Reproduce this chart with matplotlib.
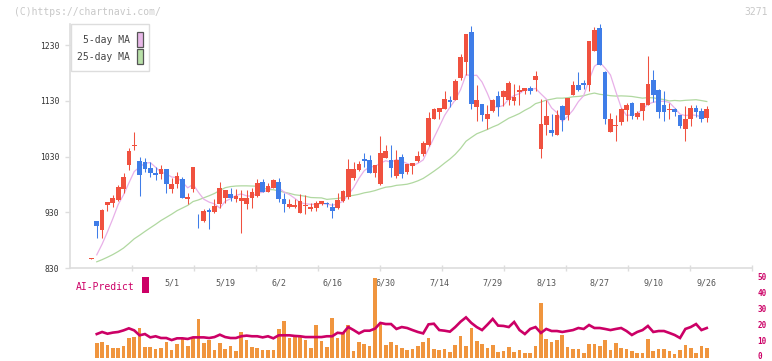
import matplotlib
matplotlib.use("Agg")
import matplotlib.pyplot as plt
from matplotlib.patches import Rectangle
from matplotlib.transforms import ScaledTranslation
import numpy as np
import pandas as pd

# ---- data (daily candles, 2025/4 .. 2025/9/26) ----
opens = [846, 914, 898, 943, 947, 952, 972, 1015, 1049, 1022,
         1020, 1009, 1000, 999, 1008, 972, 981, 990, 954, 972,
         911, 915, 934, 931, 945, 956, 963, 954, 950, 944,
         956, 960, 984, 967, 974, 984, 954, 940, 940, 929,
         942, 936, 938, 944, 946, 939, 937, 951, 957, 991,
         1006, 1025, 1024, 1000, 981, 1027, 1024, 995, 1029, 1002,
         1013, 1022, 1034, 1051, 1097, 1109, 1115, 1132, 1131, 1171,
         1200, 1253, 1119, 1124, 1097, 1111, 1138, 1137, 1132, 1129,
         1146, 1147, 1153, 1167, 1043, 1087, 1078, 1069, 1121, 1104,
         1140, 1158, 1162, 1158, 1219, 1260, 1182, 1074, 1084, 1092,
         1113, 1126, 1101, 1112, 1122, 1167, 1149, 1122, 1113, 1115,
         1104, 1079, 1097, 1117, 1112, 1099]
highs = [848, 914, 936, 949, 961, 979, 1000, 1045, 1074, 1030,
         1028, 1020, 1011, 1015, 1008, 992, 1002, 993, 965, 1011,
         927, 936, 938, 954, 984, 970, 974, 972, 970, 970,
         973, 990, 990, 982, 990, 991, 965, 953, 954, 963,
         961, 946, 950, 950, 948, 947, 964, 970, 1026, 1021,
         1022, 1037, 1033, 1015, 1066, 1051, 1051, 1042, 1035, 1017,
         1019, 1039, 1057, 1109, 1117, 1117, 1148, 1138, 1169, 1214,
         1250, 1264, 1158, 1124, 1122, 1133, 1148, 1149, 1165, 1160,
         1158, 1153, 1156, 1184, 1133, 1131, 1106, 1113, 1122, 1135,
         1165, 1182, 1167, 1237, 1262, 1268, 1183, 1108, 1104, 1117,
         1126, 1128, 1112, 1126, 1210, 1185, 1151, 1148, 1126, 1117,
         1104, 1121, 1122, 1122, 1117, 1121]
lows = [846, 884, 884, 933, 940, 950, 965, 1006, 1042, 959,
        1002, 993, 987, 990, 965, 965, 974, 956, 945, 966,
        902, 913, 900, 928, 938, 946, 951, 948, 893, 936,
        938, 958, 967, 967, 974, 949, 931, 938, 937, 928,
        927, 933, 933, 943, 940, 920, 936, 949, 953, 988,
        1004, 1012, 1000, 993, 979, 1027, 994, 991, 991, 999,
        998, 1020, 1031, 1049, 1097, 1097, 1115, 1119, 1131, 1167,
        1176, 1115, 1094, 1094, 1079, 1110, 1103, 1121, 1122, 1122,
        1122, 1142, 1143, 1147, 1028, 1069, 1067, 1069, 1076, 1096,
        1140, 1148, 1151, 1148, 1219, 1194, 1088, 1074, 1058, 1086,
        1094, 1097, 1097, 1096, 1122, 1128, 1099, 1094, 1097, 1103,
        1081, 1058, 1085, 1101, 1092, 1092]
closes = [848, 906, 934, 948, 956, 975, 993, 1040, 1051, 997,
          1008, 1000, 997, 1008, 980, 981, 995, 956, 957, 1011,
          910, 933, 930, 941, 974, 970, 956, 959, 956, 956,
          967, 983, 967, 977, 988, 954, 945, 945, 943, 950,
          943, 940, 946, 950, 944, 933, 952, 969, 1008, 1008,
          1017, 1022, 1000, 1015, 1036, 1039, 1009, 1024, 999, 1017,
          1018, 1031, 1054, 1099, 1115, 1117, 1133, 1128, 1165, 1208,
          1250, 1124, 1132, 1104, 1106, 1132, 1119, 1147, 1162, 1137,
          1149, 1153, 1147, 1175, 1088, 1103, 1073, 1104, 1096, 1135,
          1158, 1149, 1158, 1237, 1257, 1194, 1097, 1097, 1087, 1115,
          1122, 1103, 1108, 1126, 1160, 1140, 1110, 1110, 1115, 1110,
          1085, 1097, 1117, 1110, 1097, 1115]
volumes = [0, 147, 157, 127, 97, 97, 117, 197, 207, 297,
           107, 107, 87, 97, 157, 77, 137, 197, 117, 197,
           387, 147, 177, 77, 147, 87, 117, 67, 257, 177,
           110, 100, 77, 77, 77, 287, 367, 197, 207, 217,
           177, 97, 327, 167, 107, 397, 197, 247, 327, 67,
           157, 137, 117, 797, 337, 127, 157, 127, 97, 77,
           87, 117, 157, 197, 87, 77, 87, 57, 127, 217,
           117, 297, 167, 137, 97, 127, 57, 67, 107, 57,
           77, 47, 47, 117, 547, 187, 157, 177, 227, 107,
           87, 87, 47, 137, 137, 117, 177, 77, 147, 97,
           87, 67, 47, 47, 187, 67, 87, 87, 67, 37,
           77, 127, 97, 47, 117, 97]
ai_predict = [np.nan, 14.9, 16.2, 15.1, 15.8, 16.2, 17.2, 18.5, 17.2, 14.1,
              14.9, 12.8, 13.5, 12.4, 12.4, 11.1, 12.2, 12.2, 11.8, 12.8,
              12.8, 12.8, 12.4, 13.0, 14.5, 13.0, 12.4, 12.4, 13.5, 13.9,
              13.5, 13.5, 12.8, 13.5, 12.2, 14.1, 14.1, 14.1, 13.7, 13.5,
              13.0, 13.0, 13.0, 13.0, 13.5, 13.5, 15.7, 15.3, 19.3, 17.4,
              15.3, 17.0, 17.0, 18.3, 21.9, 21.2, 21.2, 18.1, 19.3, 18.7,
              17.4, 16.2, 15.3, 21.0, 21.4, 17.4, 17.0, 16.4, 19.3, 22.7,
              25.4, 21.9, 19.3, 17.4, 20.8, 24.4, 20.2, 20.0, 19.3, 22.5,
              17.4, 14.9, 18.1, 19.3, 15.6, 18.1, 16.8, 16.8, 16.2, 16.8,
              17.4, 18.7, 18.1, 20.6, 18.7, 18.7, 18.1, 17.4, 18.1, 18.7,
              16.8, 14.3, 16.2, 17.4, 20.0, 16.2, 16.8, 16.8, 15.6, 14.3,
              12.4, 18.1, 19.3, 21.2, 17.4, 18.7]
date_labels = ["5/1", "5/19", "6/2", "6/16", "6/30", "7/14",
               "7/29", "8/13", "8/27", "9/10", "9/26"]
date_index = [15, 25, 35, 45, 55, 65, 75, 85, 95, 105, 115]
price_ticks = [830, 930, 1030, 1130, 1230]
ai_ticks = [0, 10, 20, 30, 40, 50]
history_close = 838   # level the moving averages start from (before the window)

# ---- styles ----
RED = "#f0513f"
BLUE = "#3f7de8"
PINK = "#e8b0e8"
GREEN = "#b0d8a0"
CRIMSON = "#cc0066"
ORANGE = "#f0953e"
AXIS = "#dddddd"
MONO = "DejaVu Sans Mono"

W, H = 772, 361


def rect(x0, y0, x1, y1):
    return [x0 / W, 1 - y1 / H, (x1 - x0) / W, (y1 - y0) / H]


fig = plt.figure(figsize=(W / 100, H / 100), dpi=100)

x = np.arange(len(closes))
o = np.array(opens, float)
c = np.array(closes, float)
hi = np.array(highs, float)
lo = np.array(lows, float)
up = c >= o
colors = np.where(up, RED, BLUE)

# moving averages from the closes
s = pd.Series([history_close] * 24 + closes, dtype=float)
ma5 = s.rolling(5).mean().to_numpy()[24:]
ma25 = s.rolling(25).mean().to_numpy()[24:]

# ---- main price panel ----
ax = fig.add_axes(rect(70, 24, 752, 268))
ax.set_xlim(-4.0, 123.45)
ax.set_ylim(830, 1267.7)

ax.plot(x[1:], ma25[1:], color=GREEN, lw=0.9, zorder=2)
ax.plot(x[1:], ma5[1:], color=PINK, lw=0.9, zorder=2)

ax.vlines(x, lo, hi, colors=colors, lw=0.75, zorder=3)
body = np.maximum(np.abs(c - o), 1.6)
ax.bar(x, body, bottom=np.minimum(o, c), width=0.88, color=colors,
       zorder=4, linewidth=0)

for sp in ["top", "right"]:
    ax.spines[sp].set_visible(False)
for sp in ["left", "bottom"]:
    ax.spines[sp].set_color(AXIS)
    ax.spines[sp].set_linewidth(1.2)

ax.set_yticks(price_ticks)
ax.set_yticklabels([str(p) for p in price_ticks], fontsize=5.8,
                   family=MONO, color="#333333")
ax.tick_params(axis="y", direction="out", length=3.6, width=1, color=AXIS, pad=4)

x0, x1 = ax.get_xlim()
ax.set_xticks(np.linspace(x0, x1, 12)[1:])
ax.set_xticklabels([])
ax.tick_params(axis="x", direction="inout", length=4, width=1, color=AXIS)

for i, lab in zip(date_index, date_labels):
    ax.text(i, -0.06, lab, transform=ax.get_xaxis_transform(), ha="center",
            va="center", fontsize=6, family=MONO, color="#555555")

# ---- bottom panel: volume + AI-Predict ----
axb = fig.add_axes(rect(70, 278.3, 752, 357.7))
axv = axb.twinx()
axv.set_xlim(x0, x1)
axv.set_ylim(0, 794)
axv.bar(x, volumes, width=0.68, color=ORANGE, linewidth=0)
axv.axis("off")

axb.set_zorder(axv.get_zorder() + 1)
axb.patch.set_visible(False)
axb.set_xlim(x0, x1)
axb.set_ylim(0, 50)
axb.plot(x, ai_predict, color=CRIMSON, lw=1.9, solid_joinstyle="miter")
for sp in axb.spines.values():
    sp.set_visible(False)
axb.set_xticks([])
axb.yaxis.tick_right()
axb.set_yticks(ai_ticks)
axb.set_yticklabels([str(t) for t in ai_ticks], fontsize=5.5,
                    family=MONO, color=CRIMSON, fontweight="bold")
axb.tick_params(axis="y", length=0, pad=4)
# nudge the right labels up a little so the "0" stays inside the picture
shift = ScaledTranslation(0, 1.8 / 100, fig.dpi_scale_trans)
for lab in axb.get_yticklabels():
    lab.set_transform(lab.get_transform() + shift)

# ---- decorations in pixel coordinates ----
ov = fig.add_axes([0, 0, 1, 1])
ov.set_xlim(0, W)
ov.set_ylim(H, 0)
ov.axis("off")
ov.patch.set_visible(False)

ov.text(14, 12, "(C)https://chartnavi.com/", fontsize=7, family=MONO,
        color="#c8c8c8", ha="left", va="center")
ov.text(768, 12, "3271", fontsize=7, family=MONO, color="#c8c8c8",
        ha="right", va="center")

ov.add_patch(Rectangle((70.5, 24), 78, 47, facecolor="white",
                       edgecolor=AXIS, lw=1))
ov.text(130, 40, "5-day MA", fontsize=7, family=MONO, color="#444444",
        ha="right", va="center")
ov.text(130, 57, "25-day MA", fontsize=7, family=MONO, color="#444444",
        ha="right", va="center")
ov.add_patch(Rectangle((136.5, 31.5), 6, 15, facecolor="#e8b8e8",
                       edgecolor="#555555", lw=0.9))
ov.add_patch(Rectangle((136.5, 48.5), 6, 15, facecolor="#b8e0a8",
                       edgecolor="#555555", lw=0.9))

ov.text(76, 286.5, "AI-Predict", fontsize=7, family=MONO, color=CRIMSON,
        ha="left", va="center")
ov.add_patch(Rectangle((142, 277), 7, 16, facecolor=CRIMSON, lw=0))

fig.savefig("out.png", dpi=100)
